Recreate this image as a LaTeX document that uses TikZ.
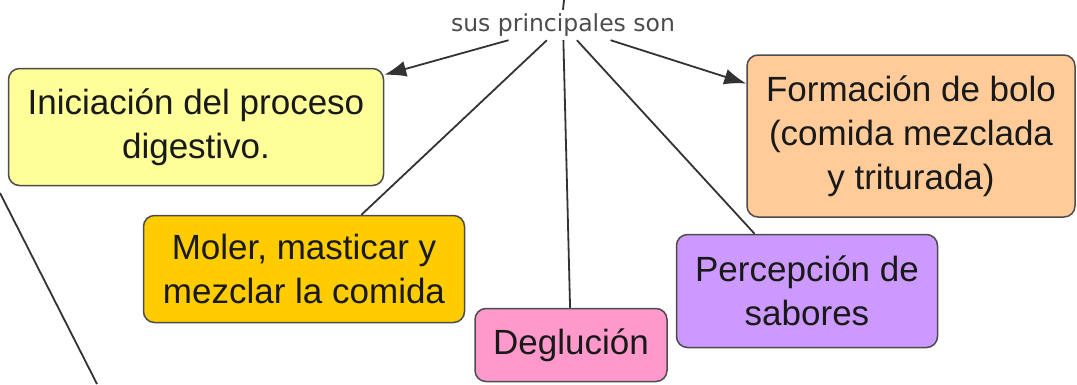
\documentclass[tikz,border=0pt]{standalone}
\usepackage{fontspec}
\setmainfont{Liberation Sans}
\newfontfamily\labelfont{DejaVu Sans}
\usetikzlibrary{arrows.meta}
\definecolor{ideaYellow}{RGB}{255,255,153}
\definecolor{ideaPeach}{RGB}{255,204,153}
\definecolor{ideaGold}{RGB}{255,204,0}
\definecolor{ideaPink}{RGB}{255,153,204}
\definecolor{ideaLilac}{RGB}{204,153,255}
\begin{document}
\begin{tikzpicture}[x=1pt,y=-1pt,
    concept/.style={draw=black!70, line width=1.5pt, rounded corners=11pt, align=center,
        inner sep=0pt, text=black!90, font=\fontsize{35}{44}\selectfont},
    link/.style={draw=black!80, line width=1.8pt},
    arrowlink/.style={link, -{Latex[length=22pt,width=16pt]}}]
    \useasboundingbox (0,0) rectangle (1077,384);

    \node [font=\labelfont\fontsize{23.5}{26}\selectfont, text=black!70, minimum height=30pt, inner sep=1pt] (lbl) at (563,25) {sus principales son};
    \coordinate (up) at (564,0);
    \draw [link] (lbl.north) -- (up);

    \node [concept, fill=ideaYellow, minimum width=375pt, minimum height=117pt] (ini) at (196,127) {Iniciación del proceso\\digestivo.};
    \node [concept, fill=ideaPeach, minimum width=328pt, minimum height=162pt] (bolo) at (911,136) {Formación de bolo\\(comida mezclada\\y triturada)};
    \node [concept, fill=ideaGold, minimum width=321pt, minimum height=107pt] (moler) at (304,269) {Moler, masticar y\\mezclar la comida};
    \node [concept, fill=ideaPink, minimum width=192pt, minimum height=73pt] (deg) at (571,345) {Deglución};
    \node [concept, fill=ideaLilac, minimum width=261pt, minimum height=113pt] (sabor) at (807,291) {Percepción de\\sabores};

    \draw [arrowlink] (lbl) -- (ini);
    \draw [link] (lbl) -- (moler);
    \draw [link] (lbl) -- (deg);
    \draw [link] (lbl) -- (sabor);
    \draw [arrowlink] (lbl) -- (bolo);

    % connector coming in from outside the crop
    \coordinate (offA) at (0,193);
    \coordinate (offB) at (97,384);
    \draw [link] (offA) -- (offB);
\end{tikzpicture}
\end{document}
